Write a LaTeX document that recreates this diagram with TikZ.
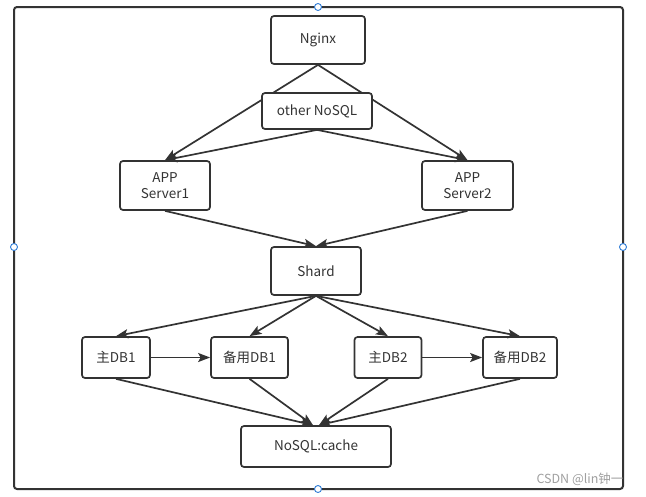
\documentclass[tikz,border=0pt]{standalone}
\usepackage{fontspec}
\newfontfamily\cjk{Noto Sans CJK SC}
\usetikzlibrary{arrows.meta}
\definecolor{ink}{HTML}{333333}
\definecolor{handle}{HTML}{2E7CD6}

\begin{document}
\begin{tikzpicture}[x=1pt, y=-1pt,
  box/.style={draw=ink, line width=1.7pt, rounded corners=3pt, fill=white, text=ink,
    font=\cjk\fontsize{13.5}{16}\selectfont, align=center, inner sep=0pt},
  link/.style={draw=ink, line width=1.7pt, -{Stealth[length=12pt, width=9pt, inset=2.5pt]}},
  grip/.style={circle, draw=handle, fill=white, line width=0.9pt, minimum size=7pt, inner sep=0pt}]
\useasboundingbox (0,0) rectangle (646,496);

% outer frame with its handles
\draw[ink, line width=2pt, rounded corners=3pt] (14,7) rectangle (623,489);
\node[grip] (gripTop) at (318,7) {};
\node[grip] (gripLeft) at (14,247) {};
\node[grip] (gripRight) at (623,247) {};
\node[grip] (gripBottom) at (318,489) {};

% front end
\node[box, minimum width=94pt, minimum height=48pt] (nginx) at (318,40) {Nginx};
\node[box, minimum width=90pt, minimum height=49pt] (srv1) at (165,185.5) {APP\\Server1};
\node[box, minimum width=91pt, minimum height=49pt] (srv2) at (467.5,185.5) {APP\\Server2};
\draw[link] (nginx.south) -- (srv1.north);
\draw[link] (nginx.south) -- (srv2.north);
\node[box, minimum width=110pt, minimum height=36pt] (other) at (317,111) {other NoSQL};
\draw[link] (other.south) -- (srv1.north);
\draw[link] (other.south) -- (srv2.north);

% shard
\node[box, minimum width=90pt, minimum height=48pt] (shard) at (316,271) {Shard};
\draw[link] (srv1.south) -- (shard.north);
\draw[link] (srv2.south) -- (shard.north);

% databases
\node[box, minimum width=68pt, minimum height=41pt] (main1) at (116,357.5) {主DB1};
\node[box, minimum width=77pt, minimum height=41pt] (back1) at (249.5,357.5) {备用DB1};
\node[box, minimum width=67pt, minimum height=41pt] (main2) at (388,357.5) {主DB2};
\node[box, minimum width=74pt, minimum height=41pt] (back2) at (520,357.5) {备用DB2};
\draw[link] (shard.south) -- (main1.north);
\draw[link] (shard.south) -- (back1.north);
\draw[link] (shard.south) -- (main2.north);
\draw[link] (shard.south) -- (back2.north);
\draw[link] (main1.east) -- (back1.west);
\draw[link] (main2.east) -- (back2.west);

% cache
\node[box, minimum width=150pt, minimum height=41pt] (cache) at (316,446.5) {NoSQL:cache};
\draw[link] (main1.south) -- ([xshift=-3pt]cache.north);
\draw[link] (back1.south) -- ([xshift=-3pt]cache.north);
\draw[link] (main2.south) -- ([xshift=3pt]cache.north);
\draw[link] (back2.south) -- ([xshift=3pt]cache.north);

\node[font=\cjk\fontsize{12.5}{15}\selectfont, text=gray!75] (mark) at (580,479) {CSDN @lin钟一};
\end{tikzpicture}
\end{document}
